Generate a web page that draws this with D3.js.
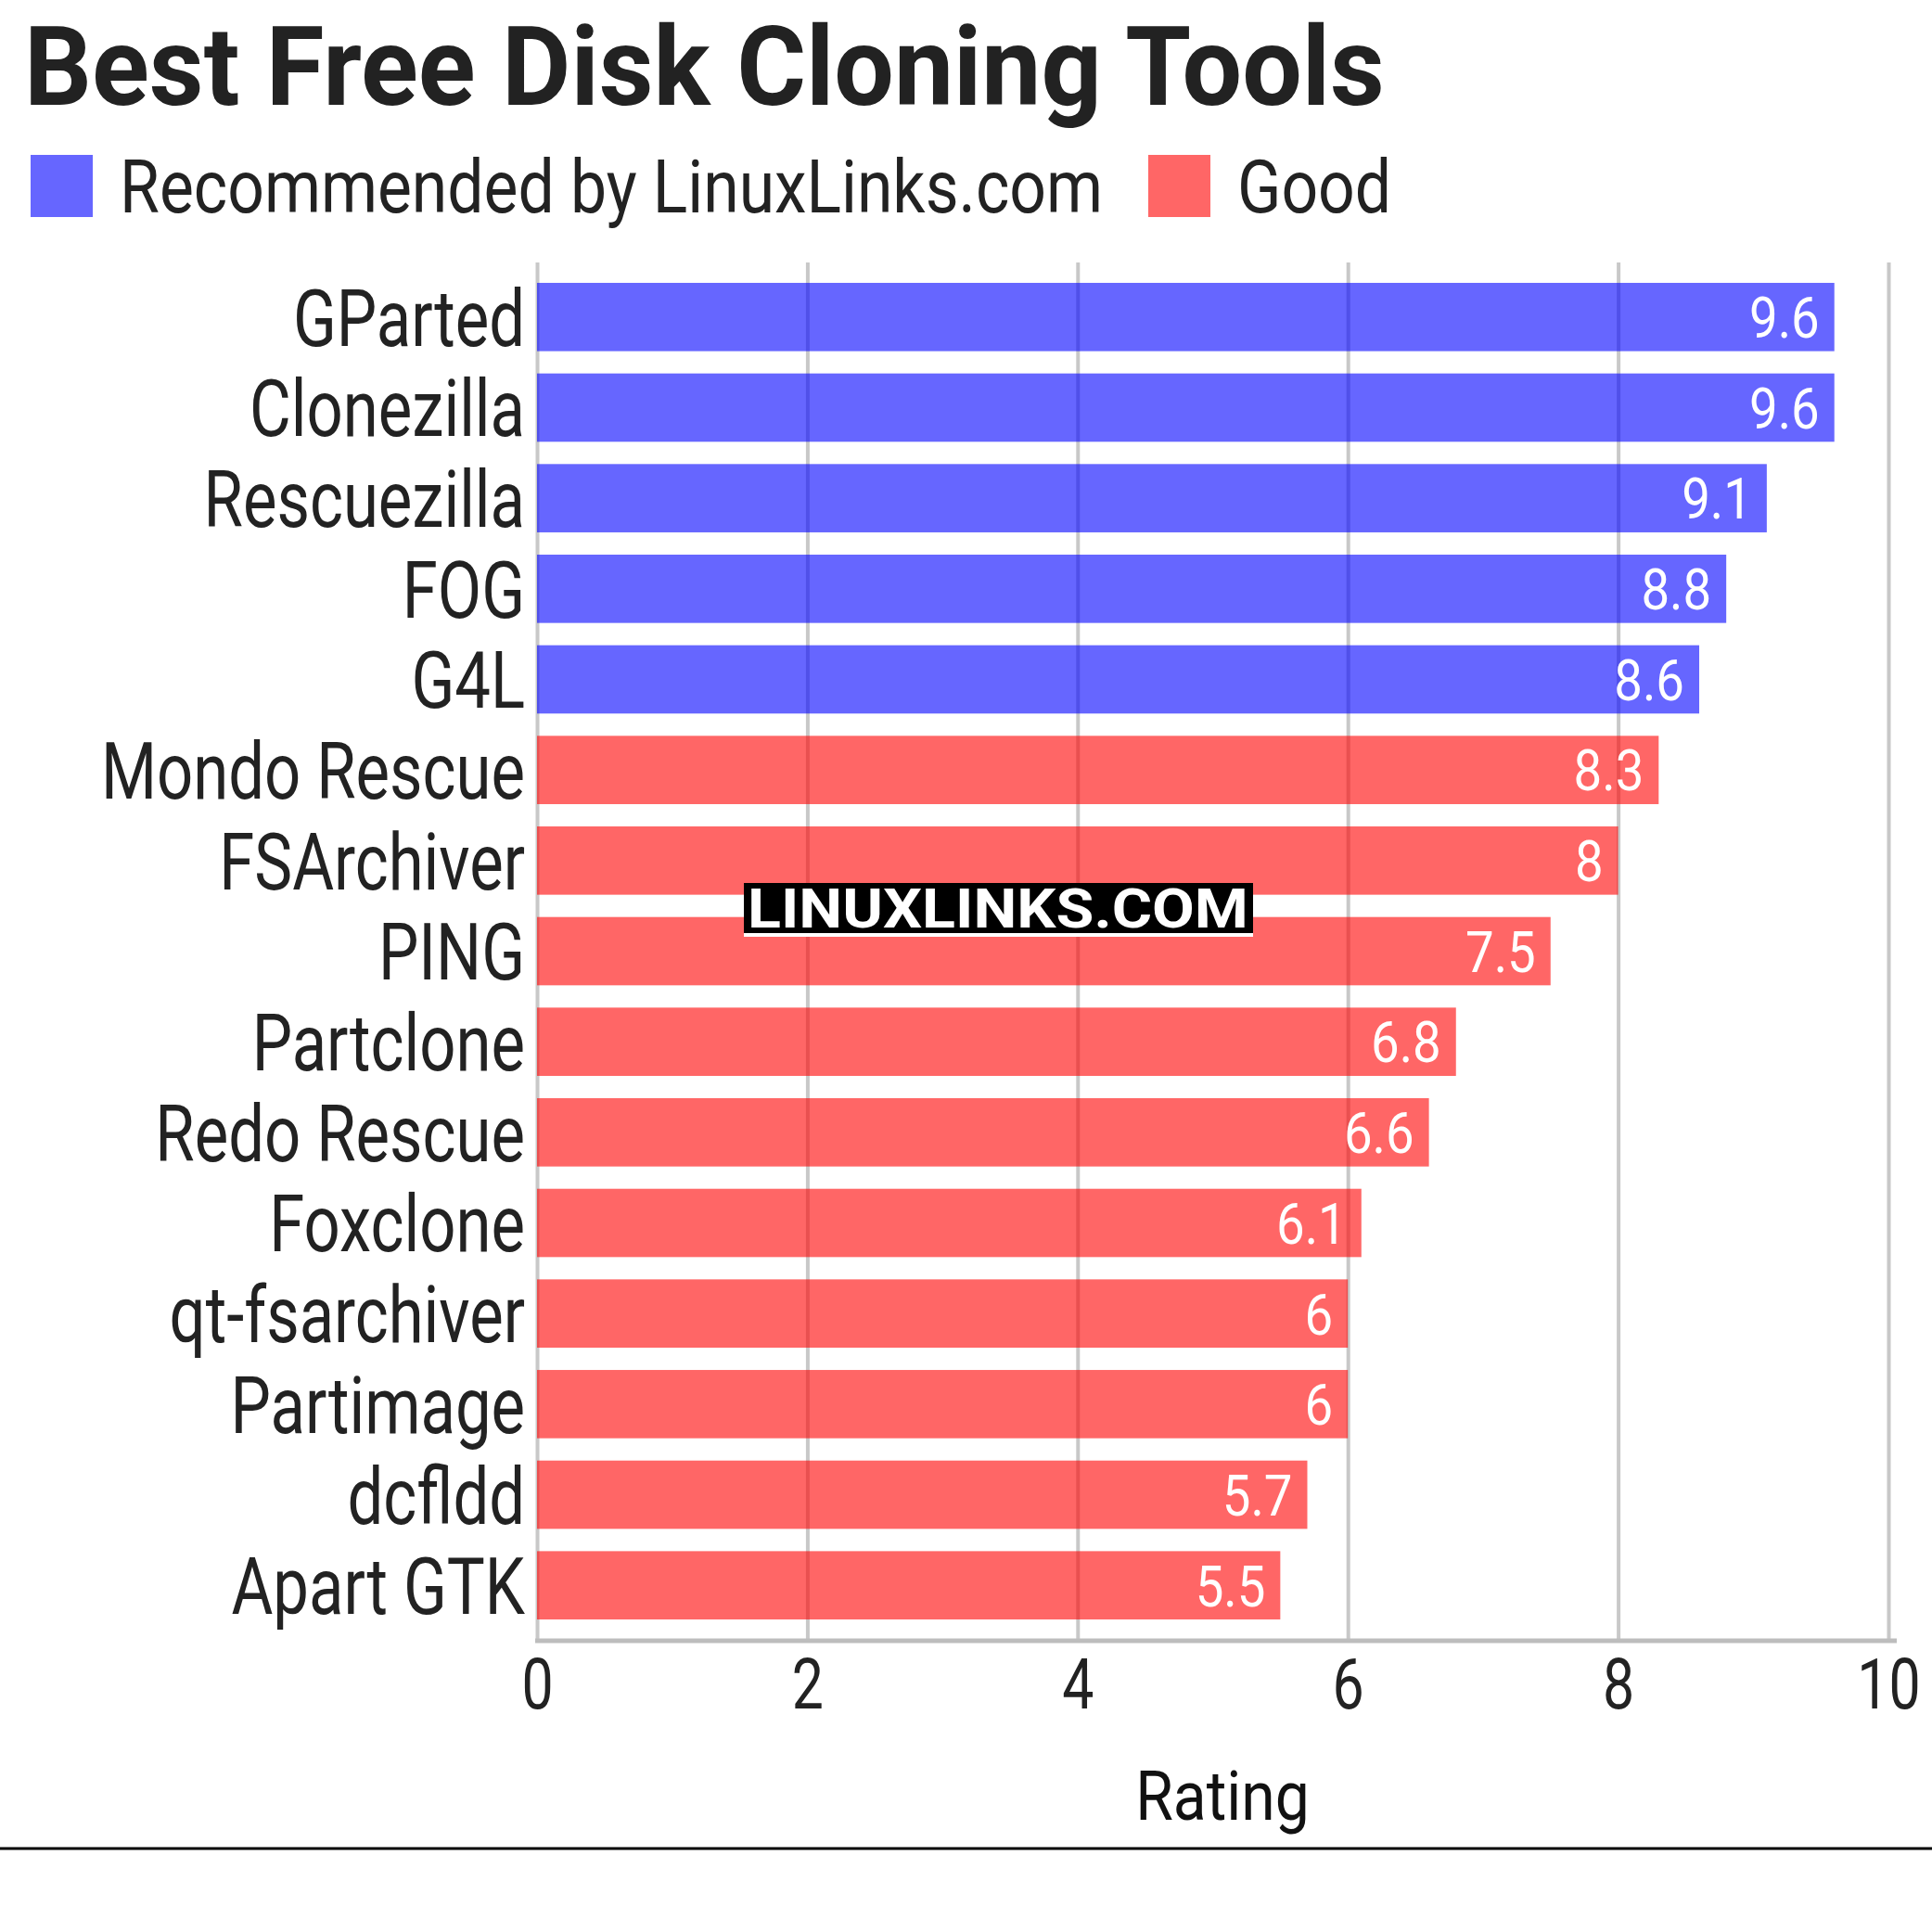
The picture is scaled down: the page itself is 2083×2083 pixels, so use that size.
<!DOCTYPE html>
<html>
<head>
<meta charset="utf-8">
<script src="https://cdn.jsdelivr.net/npm/d3@7"></script>
<style>
  body { margin: 0; background: #fff; }
  text { font-family: Roboto, "Noto Sans", sans-serif; }
</style>
</head>
<body>
<div id="chart"></div>
<script>
var w = 2083;
var h = 2083;
var sx = 0.8; // squeeze text to look like a condensed face

var tools = ["GParted","Clonezilla","Rescuezilla","FOG","G4L","Mondo Rescue","FSArchiver","PING",
             "Partclone","Redo Rescue","Foxclone","qt-fsarchiver","Partimage","dcfldd","Apart GTK"];
var ratings = [9.6,9.6,9.1,8.8,8.6,8.3,8,7.5,6.8,6.6,6.1,6,6,5.7,5.5];
var groups = ["Recommended","Recommended","Recommended","Recommended","Recommended",
              "Good","Good","Good","Good","Good","Good","Good","Good","Good","Good"];
var legendLabels = ["Recommended by LinuxLinks.com","Good"];
var xTicks = [0,2,4,6,8,10];

var colors = { "Recommended": "#0000ff", "Good": "#ff0000" };

var margin = { left: 579, right: 47, top: 283, bottom: 315 };

var svg = d3.select("#chart")
            .append("svg")
            .attr("width", w)
            .attr("height", h);

var xScale = d3.scaleLinear()
        .domain([0, 10])
        .range([margin.left, w - margin.right]);

var yScale = d3.scaleBand()
        .domain(tools)
        .range([margin.top, h - margin.bottom])
        .paddingInner(0.246)
        .paddingOuter(0.225);

// title
svg.append("g")
    .attr("transform", "translate(26,113) scale(0.97,1)")
  .append("text")
    .attr("font-size", 118)
    .attr("font-weight", "bold")
    .attr("fill", "#222")
    .text("Best Free Disk Cloning Tools");

// legend
var legX = [33, 1238];
legendLabels.forEach(function(lab, i) {
    svg.append("rect")
        .attr("x", legX[i]).attr("y", 167)
        .attr("width", 67).attr("height", 67)
        .attr("fill", i == 0 ? colors.Recommended : colors.Good)
        .attr("fill-opacity", 0.6);
    svg.append("g")
        .attr("transform", "translate(" + (legX[i] + 96) + ",229) scale(0.87,1)")
      .append("text")
        .attr("font-size", 80)
        .attr("fill", "#222")
        .text(lab);
});

// grid lines, under the translucent bars
var grid = svg.append("g")
    .attr("transform", "translate(0," + (h - margin.bottom) + ")")
    .call(d3.axisBottom(xScale).tickValues(xTicks).tickSize(-(h - margin.bottom - margin.top)).tickFormat(""));
grid.select(".domain").remove();
grid.selectAll("line").attr("stroke", "#c8c8c8").attr("stroke-width", 4);

// bars
svg.selectAll("rect.bar")
    .data(ratings)
    .enter()
    .append("rect")
    .attr("class", "bar")
    .attr("x", xScale(0))
    .attr("y", function(d, i) { return yScale(tools[i]); })
    .attr("width", function(d) { return xScale(d) - xScale(0); })
    .attr("height", yScale.bandwidth())
    .attr("fill", function(d, i) { return colors[groups[i]]; })
    .attr("fill-opacity", 0.6);

// value labels
svg.selectAll("g.val")
    .data(ratings)
    .enter()
    .append("g")
    .attr("class", "val")
    .attr("transform", function(d, i) {
        return "translate(" + (xScale(d) - 16) + "," + (yScale(tools[i]) + yScale.bandwidth() / 2) + ") scale(0.88,1)";
    })
  .append("text")
    .attr("text-anchor", "end")
    .attr("dy", "0.36em")
    .attr("font-size", 62)
    .attr("fill", "#fff")
    .text(function(d) { return d; });

// y axis (category labels)
var yAxis = svg.append("g")
    .attr("transform", "translate(" + (margin.left - 13) + ",0)")
    .call(d3.axisLeft(yScale).tickSize(0).tickPadding(0));
yAxis.select(".domain").remove();
yAxis.selectAll("text")
    .attr("x", 0)
    .attr("dy", "0.36em")
    .attr("font-size", 86)
    .attr("font-family", "Roboto")
    .attr("fill", "#222")
    .attr("transform", "scale(" + sx + ",1)");

// x axis
svg.append("line")
    .attr("x1", xScale(0) - 2).attr("x2", w - 38)
    .attr("y1", h - margin.bottom + 1).attr("y2", h - margin.bottom + 1)
    .attr("stroke", "#bdbdbd").attr("stroke-width", 5);

var xAxis = svg.append("g")
    .attr("transform", "translate(0," + (h - margin.bottom) + ")")
    .call(d3.axisBottom(xScale).tickValues(xTicks).tickSize(0).tickPadding(0));
xAxis.select(".domain").remove();
xAxis.selectAll("text")
    .attr("y", 74)
    .attr("dy", 0)
    .attr("font-size", 76)
    .attr("font-family", "Roboto")
    .attr("fill", "#222")
    .attr("transform", "scale(" + sx + ",1)");

svg.append("g")
    .attr("transform", "translate(1318,1962) scale(0.88,1)")
  .append("text")
    .attr("text-anchor", "middle")
    .attr("font-size", 75)
    .attr("fill", "#111")
    .text("Rating");

// bottom rule
svg.append("line")
    .attr("x1", 0).attr("x2", w)
    .attr("y1", 1993).attr("y2", 1993)
    .attr("stroke", "#000").attr("stroke-width", 3);

// watermark
svg.append("rect")
    .attr("x", 802).attr("y", 952)
    .attr("width", 549).attr("height", 58)
    .attr("fill", "#fff");
svg.append("rect")
    .attr("x", 802).attr("y", 952)
    .attr("width", 549).attr("height", 54)
    .attr("fill", "#000");
svg.append("text")
    .attr("x", 806).attr("y", 1000)
    .attr("font-family", "'Open Sans'")
    .attr("font-weight", "bold")
    .attr("font-size", 60)
    .attr("textLength", 540)
    .attr("lengthAdjust", "spacingAndGlyphs")
    .attr("fill", "#fff")
    .text("LINUXLINKS.COM");
</script>
</body>
</html>
